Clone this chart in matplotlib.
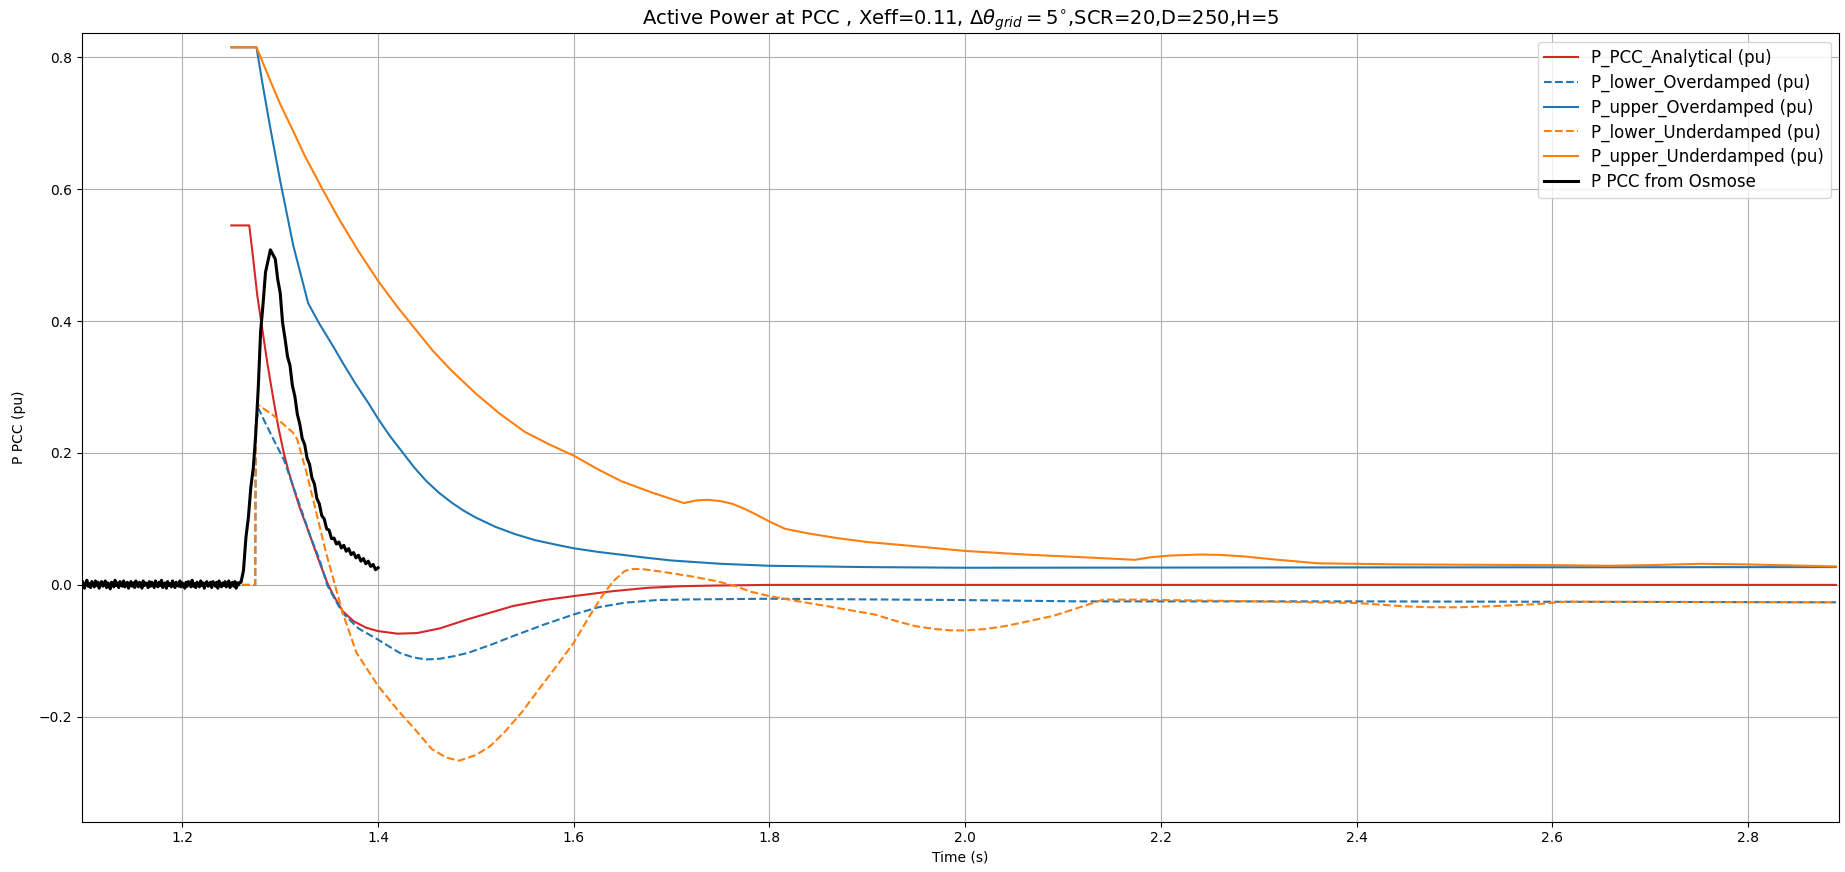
import numpy as np
import matplotlib
matplotlib.use("Agg")
import matplotlib.pyplot as plt

# ---- data ----
red_t = [1.25, 1.2684, 1.272, 1.2765, 1.2805, 1.287, 1.293, 1.298, 1.3037, 1.308, 1.313, 1.32,
         1.327, 1.334, 1.3405, 1.349, 1.356, 1.364, 1.375, 1.388, 1.40, 1.42, 1.44, 1.463,
         1.492, 1.515, 1.538, 1.57, 1.6, 1.64, 1.675, 1.71, 1.744, 1.8, 2.89]
red_p = [0.545, 0.545, 0.50, 0.44, 0.40, 0.335, 0.282, 0.24, 0.20, 0.175, 0.15, 0.117,
         0.089, 0.06, 0.033, 0.0, -0.02, -0.040, -0.055, -0.065, -0.070, -0.074, -0.073, -0.066,
         -0.052, -0.042, -0.032, -0.023, -0.017, -0.0095, -0.0045, -0.002, -0.001, 0.0, 0.0]

low_od_t = [1.25, 1.2745, 1.2750, 1.278, 1.285, 1.293, 1.3037, 1.312, 1.32, 1.33, 1.3405,
            1.348, 1.356, 1.364, 1.38, 1.40, 1.422, 1.436, 1.449, 1.463, 1.478, 1.492, 1.515,
            1.538, 1.57, 1.6, 1.625, 1.652, 1.685, 1.72, 1.8, 2.0, 2.117, 2.4, 2.89]
low_od_p = [0.0, 0.0, 0.24, 0.267, 0.245, 0.221, 0.19, 0.155, 0.121, 0.077, 0.037,
            0.0, -0.022, -0.043, -0.066, -0.083, -0.103, -0.110, -0.113, -0.112, -0.108, -0.103, -0.091,
            -0.0776, -0.060, -0.0448, -0.034, -0.027, -0.023, -0.022, -0.021, -0.023, -0.025, -0.025, -0.0264]

up_od_t = [1.25, 1.2758, 1.2825, 1.2895, 1.2997, 1.3133, 1.3286, 1.34, 1.354, 1.365, 1.377,
           1.39, 1.40, 1.412, 1.425, 1.437, 1.449, 1.462, 1.475, 1.487, 1.50, 1.52, 1.54,
           1.56, 1.585, 1.6, 1.625, 1.649, 1.675, 1.70, 1.75, 1.80, 1.9, 2.0, 2.4, 2.89]
up_od_p = [0.815, 0.815, 0.755, 0.696, 0.615, 0.515, 0.427, 0.396, 0.362, 0.334, 0.305,
           0.276, 0.252, 0.226, 0.201, 0.178, 0.158, 0.14, 0.125, 0.113, 0.102, 0.088, 0.077,
           0.068, 0.060, 0.0555, 0.050, 0.0457, 0.041, 0.037, 0.032, 0.029, 0.027, 0.026, 0.0265, 0.027]

low_ud_t = [1.25, 1.2745, 1.2750, 1.2775, 1.293, 1.313, 1.3173, 1.327, 1.337, 1.347, 1.356,
            1.364, 1.378, 1.40, 1.422, 1.4375, 1.455, 1.47, 1.483, 1.50, 1.515, 1.53, 1.547,
            1.565, 1.583, 1.6, 1.615, 1.629, 1.64, 1.652, 1.66, 1.67, 1.69, 1.72, 1.745,
            1.766, 1.78, 1.8, 1.83, 1.858, 1.885, 1.908, 1.93, 1.949, 1.97, 1.986, 2.0,
            2.02, 2.041, 2.065, 2.091, 2.115, 2.141, 2.174, 2.256, 2.4, 2.425, 2.449, 2.475,
            2.504, 2.545, 2.586, 2.614, 2.89]
low_ud_p = [0.0, 0.0, 0.24, 0.273, 0.257, 0.231, 0.221, 0.17, 0.109, 0.048, 0.0,
            -0.043, -0.103, -0.153, -0.193, -0.2186, -0.249, -0.262, -0.2665, -0.258, -0.244, -0.222, -0.193,
            -0.157, -0.122, -0.0877, -0.05, -0.017, 0.005, 0.021, 0.024, 0.024, 0.02, 0.013, 0.006,
            -0.002, -0.01, -0.017, -0.025, -0.032, -0.039, -0.045, -0.055, -0.0625, -0.067, -0.069, -0.069,
            -0.067, -0.0625, -0.055, -0.0466, -0.035, -0.0224, -0.0224, -0.024, -0.0274, -0.030, -0.0325, -0.0338,
            -0.034, -0.032, -0.029, -0.0254, -0.0264]

up_ud_t = [1.25, 1.2758, 1.29, 1.30, 1.3133, 1.325, 1.3439, 1.36, 1.38, 1.40, 1.42,
           1.4374, 1.456, 1.475, 1.50, 1.524, 1.55, 1.575, 1.6, 1.625, 1.649, 1.68, 1.7127,
           1.725, 1.737, 1.75, 1.762, 1.775, 1.786, 1.80, 1.816, 1.84, 1.869, 1.90, 1.943,
           2.0, 2.065, 2.12, 2.1736, 2.19, 2.21, 2.2396, 2.26, 2.284, 2.32, 2.361, 2.45,
           2.6, 2.658, 2.70, 2.752, 2.8, 2.89]
up_ud_p = [0.815, 0.815, 0.764, 0.729, 0.688, 0.651, 0.598, 0.555, 0.506, 0.461, 0.421,
           0.389, 0.355, 0.325, 0.29, 0.26, 0.232, 0.213, 0.196, 0.175, 0.157, 0.14, 0.124,
           0.128, 0.129, 0.127, 0.123, 0.115, 0.107, 0.096, 0.085, 0.078, 0.071, 0.065, 0.0594,
           0.0515, 0.0457, 0.042, 0.038, 0.042, 0.0445, 0.046, 0.0455, 0.0433, 0.038, 0.0327, 0.031,
           0.030, 0.029, 0.030, 0.032, 0.031, 0.028]

# Osmose trace: pre-event (noisy, fine sampling) and event part
osm_pre_span = (1.095, 1.25875)
osm_pre_p = [0.004, -0.003, 0.006, 0.000, -0.005, 0.003, 0.007, -0.002, 0.002, -0.004, 0.005, 0.001,
             -0.003, 0.006, -0.001, 0.004, -0.005, 0.002, 0.005, -0.002, 0.000, 0.006, -0.004, 0.003,
             0.001, -0.006, 0.004, 0.002, -0.003, 0.007, -0.001, 0.003, -0.004, 0.005, 0.000, -0.002,
             0.006, -0.003, 0.002, 0.004, -0.005, 0.001, 0.005, -0.002, 0.003, -0.004, 0.006, 0.000,
             -0.003, 0.004, 0.001, -0.005, 0.006, -0.001, 0.003, 0.002, -0.004, 0.005, -0.002, 0.004,
             0.000, -0.004, 0.006, 0.002, -0.003, 0.004, -0.001, 0.007, -0.004, 0.002, 0.003, -0.005,
             0.005, -0.001, 0.002, -0.003, 0.006, 0.000, -0.004, 0.004, 0.001, -0.002, 0.006, -0.003,
             0.003, 0.000, -0.005, 0.004, -0.002, 0.005, 0.001, -0.003, 0.007, -0.002, 0.002, -0.004,
             0.004, 0.001, -0.003, 0.006, -0.001, 0.003, -0.005, 0.002, 0.005, -0.002, 0.000, 0.004,
             -0.004, 0.005, 0.002, -0.002, 0.004, -0.005, 0.006, 0.001, -0.003, 0.003, -0.001, 0.005,
             -0.003, 0.002, 0.006, -0.004, 0.001, 0.004, -0.002, 0.005, -0.005, 0.003, 0.000, 0.004]
osm_evt_span = (1.26, 1.40)
osm_evt_p = [0.004, 0.022, 0.072, 0.102, 0.148, 0.177, 0.228, 0.296, 0.384, 0.426,
             0.474, 0.491, 0.508, 0.501, 0.494, 0.463, 0.443, 0.397, 0.373, 0.346,
             0.333, 0.302, 0.286, 0.259, 0.244, 0.222, 0.213, 0.192, 0.183, 0.162,
             0.153, 0.131, 0.123, 0.105, 0.100, 0.085, 0.083, 0.070, 0.071, 0.062,
             0.065, 0.056, 0.060, 0.051, 0.055, 0.046, 0.049, 0.041, 0.045, 0.036,
             0.040, 0.032, 0.036, 0.028, 0.031, 0.023, 0.026]
osm_t = np.concatenate([np.linspace(*osm_pre_span, len(osm_pre_p)),
                        np.linspace(*osm_evt_span, len(osm_evt_p))])
osm_p = osm_pre_p + osm_evt_p

labels = ["P_PCC_Analytical (pu)", "P_lower_Overdamped (pu)", "P_upper_Overdamped (pu)",
          "P_lower_Underdamped (pu)", "P_upper_Underdamped (pu)", "P PCC from Osmose"]

# ---- figure ----
fig = plt.figure(figsize=(18.45, 8.72), dpi=100)
ax = fig.add_axes([0.0442, 0.0577, 0.9525, 0.9039])

ax.plot(red_t, red_p, color="#d62728", lw=1.5, label=labels[0])
ax.plot(low_od_t, low_od_p, color="#1f77b4", lw=1.5, ls="--", label=labels[1])
ax.plot(up_od_t, up_od_p, color="#1f77b4", lw=1.5, label=labels[2])
ax.plot(low_ud_t, low_ud_p, color="#ff7f0e", lw=1.5, ls="--", label=labels[3])
ax.plot(up_ud_t, up_ud_p, color="#ff7f0e", lw=1.5, label=labels[4])
ax.plot(osm_t, osm_p, color="black", lw=2.2, label=labels[5])

ax.set_xlim(1.097, 2.893)
ax.set_ylim(-0.359, 0.836)
ax.set_xticks([1.2, 1.4, 1.6, 1.8, 2.0, 2.2, 2.4, 2.6, 2.8])
ax.set_yticks([-0.2, 0.0, 0.2, 0.4, 0.6, 0.8])
ax.grid(True)
ax.set_xlabel("Time (s)")
ax.set_ylabel("P PCC (pu)", labelpad=9)
ax.set_title(r"Active Power at PCC , Xeff=0.11, $\Delta\theta_{grid} = 5^{\circ}$,SCR=20,D=250,H=5",
             fontsize=14)
leg = ax.legend(loc="upper right", fontsize=12, labelspacing=0.4)

fig.savefig("out.png", dpi=100)
